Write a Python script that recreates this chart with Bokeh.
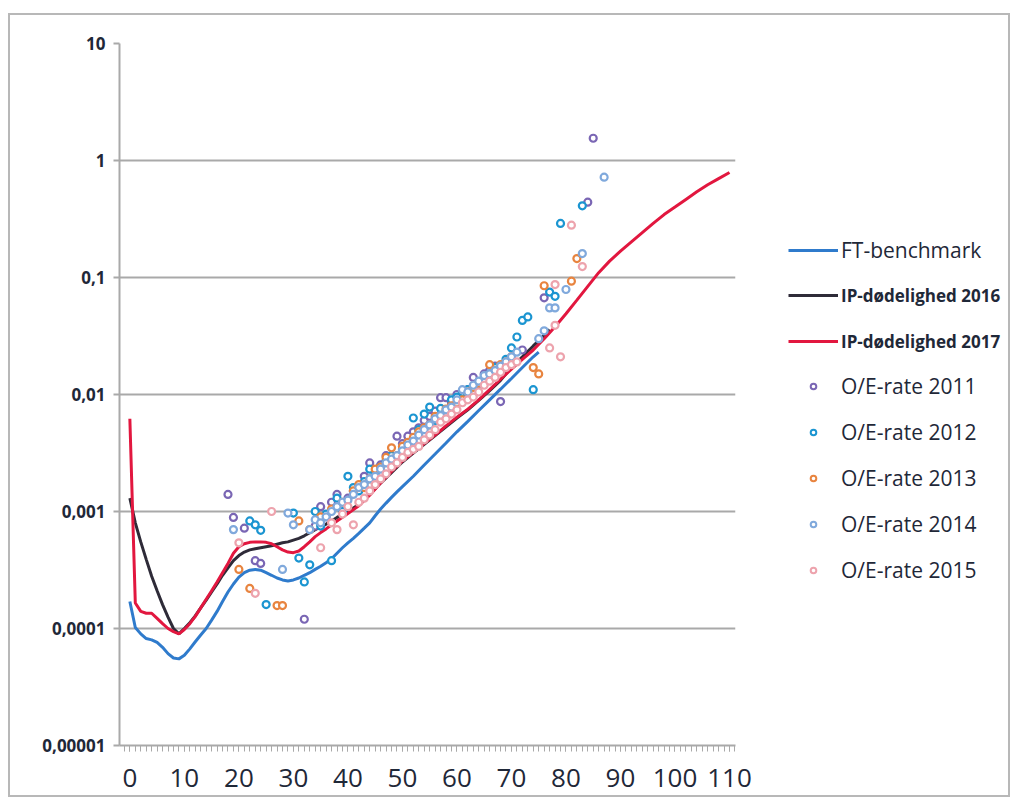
from bokeh.plotting import figure
from bokeh.layouts import row
from bokeh.models import FixedTicker, Legend, LegendItem, Range1d
from bokeh.embed import file_html
from bokeh.resources import INLINE

# ---------------- data ----------------
y_ticks = [1e-5, 1e-4, 1e-3, 1e-2, 1e-1, 1.0, 10.0]
y_tick_labels = ["0,00001", "0,0001", "0,001", "0,01", "0,1", "1", "10"]
x_ticks = [0, 10, 20, 30, 40, 50, 60, 70, 80, 90, 100, 110]

ft_age = [0, 1, 2, 3, 4, 5, 6, 7, 8, 9, 10, 11, 12, 13, 14, 15, 16, 17, 18, 19, 20,
          21, 22, 23, 24, 25, 26, 27, 28, 29, 30, 31, 32, 33, 34, 35, 36, 37, 38, 39,
          40, 41, 42, 43, 44, 45, 46, 47, 48, 49, 50, 52, 54, 56, 58, 60, 62, 64, 66,
          68, 70, 72, 74, 75]
ft_val = [1.7e-4, 1.02e-4, 9.0e-5, 8.2e-5, 8.0e-5, 7.6e-5, 6.9e-5, 6.1e-5, 5.6e-5, 5.5e-5,
          5.9e-5, 6.7e-5, 7.7e-5, 8.8e-5, 1.0e-4, 1.18e-4, 1.4e-4, 1.7e-4, 2.05e-4, 2.4e-4,
          2.75e-4, 3.0e-4, 3.15e-4, 3.2e-4, 3.15e-4, 3.0e-4, 2.85e-4, 2.7e-4, 2.6e-4, 2.55e-4,
          2.6e-4, 2.7e-4, 2.85e-4, 3.0e-4, 3.2e-4, 3.4e-4, 3.65e-4, 3.95e-4, 4.4e-4, 4.9e-4,
          5.4e-4, 5.9e-4, 6.5e-4, 7.2e-4, 8.0e-4, 9.2e-4, 1.05e-3, 1.18e-3, 1.32e-3, 1.47e-3,
          1.63e-3, 2.0e-3, 2.5e-3, 3.1e-3, 3.85e-3, 4.8e-3, 5.9e-3, 7.3e-3, 9.0e-3,
          1.11e-2, 1.37e-2, 1.7e-2, 2.1e-2, 2.3e-2]

ip16_age = [0, 1, 2, 3, 4, 5, 6, 7, 8, 9, 10, 11, 12, 13, 14, 15, 16, 17, 18, 19, 20,
            21, 22, 23, 24, 25, 26, 27, 28, 29, 30, 31, 32, 33, 34, 35, 36, 37, 38, 40,
            42, 44, 46, 48, 50, 52, 54, 56, 58, 60, 62, 64, 66, 68, 70, 72, 74, 76, 77]
ip16_val = [1.3e-3, 8.0e-4, 5.5e-4, 3.9e-4, 2.8e-4, 2.1e-4, 1.6e-4, 1.25e-4, 1.0e-4, 9.0e-5,
            1.0e-4, 1.12e-4, 1.28e-4, 1.5e-4, 1.75e-4, 2.05e-4, 2.4e-4, 2.85e-4, 3.3e-4, 3.8e-4,
            4.2e-4, 4.5e-4, 4.7e-4, 4.8e-4, 4.9e-4, 5.0e-4, 5.1e-4, 5.25e-4, 5.4e-4, 5.5e-4,
            5.7e-4, 5.9e-4, 6.2e-4, 6.6e-4, 7.0e-4, 7.4e-4, 7.8e-4, 8.3e-4, 8.9e-4, 1.0e-3,
            1.15e-3, 1.4e-3, 1.75e-3, 2.15e-3, 2.65e-3, 3.15e-3, 3.75e-3, 4.45e-3, 5.3e-3,
            6.3e-3, 7.4e-3, 8.9e-3, 1.08e-2, 1.32e-2, 1.7e-2, 2.1e-2, 2.6e-2, 3.2e-2, 3.6e-2]

ip17_age = [0, 1, 2, 3, 4, 5, 6, 7, 8, 9, 10, 11, 12, 13, 14, 15, 16, 17, 18, 19, 20,
            21, 22, 23, 24, 25, 26, 27, 28, 29, 30, 31, 32, 33, 34, 35, 36, 37, 38, 40,
            42, 44, 46, 48, 50, 52, 54, 56, 58, 60, 62, 64, 66, 68, 70, 72, 74, 76, 78,
            80, 82, 84, 86, 88, 90, 92, 94, 96, 98, 100, 102, 104, 106, 108, 110]
ip17_val = [6.2e-3, 1.65e-4, 1.4e-4, 1.35e-4, 1.35e-4, 1.22e-4, 1.1e-4, 1.0e-4, 9.4e-5, 9.0e-5,
            9.8e-5, 1.1e-4, 1.27e-4, 1.5e-4, 1.78e-4, 2.1e-4, 2.5e-4, 3.0e-4, 3.6e-4, 4.4e-4,
            5.0e-4, 5.3e-4, 5.45e-4, 5.5e-4, 5.5e-4, 5.45e-4, 5.3e-4, 5.0e-4, 4.7e-4, 4.5e-4,
            4.45e-4, 4.6e-4, 5.0e-4, 5.5e-4, 6.1e-4, 6.6e-4, 7.1e-4, 7.7e-4, 8.3e-4, 9.6e-4,
            1.12e-3, 1.38e-3, 1.75e-3, 2.2e-3, 2.7e-3, 3.2e-3, 3.8e-3, 4.5e-3, 5.4e-3, 6.4e-3,
            7.5e-3, 9.0e-3, 1.1e-2, 1.35e-2, 1.65e-2, 2.0e-2, 2.4e-2, 3.0e-2, 3.8e-2, 4.9e-2,
            6.4e-2, 8.4e-2, 1.1e-1, 1.38e-1, 1.68e-1, 2.02e-1, 2.42e-1, 2.9e-1, 3.45e-1, 4.0e-1,
            4.65e-1, 5.4e-1, 6.2e-1, 7.0e-1, 7.9e-1]

oe2011_age = [18, 19, 21, 23, 24, 32, 34, 35, 36, 37, 38, 40, 41, 42, 43, 44, 45, 46, 47, 49,
              50, 51, 52, 53, 54, 55, 56, 57, 58, 59, 60, 61, 62, 63, 64, 65, 66, 67, 68, 69,
              70, 72, 76, 84, 85]
oe2011_val = [1.4e-3, 8.9e-4, 7.2e-4, 3.8e-4, 3.6e-4, 1.2e-4, 7.5e-4, 1.1e-3, 9.0e-4, 1.2e-3,
              1.4e-3, 1.3e-3, 1.5e-3, 1.6e-3, 2.0e-3, 2.6e-3, 2.2e-3, 2.5e-3, 3.0e-3, 4.4e-3,
              3.8e-3, 4.4e-3, 4.8e-3, 5.2e-3, 6.0e-3, 6.5e-3, 7.2e-3, 9.4e-3, 9.4e-3, 8.5e-3,
              1.0e-2, 1.05e-2, 1.1e-2, 1.4e-2, 1.2e-2, 1.5e-2, 1.6e-2, 1.75e-2, 8.7e-3, 1.9e-2,
              2.0e-2, 2.4e-2, 6.7e-2, 4.4e-1, 1.55]

oe2012_age = [22, 23, 24, 25, 30, 31, 32, 33, 34, 35, 36, 37, 38, 39, 40, 41, 42, 43, 44, 45,
              46, 47, 48, 50, 51, 52, 53, 54, 55, 56, 57, 58, 59, 60, 61, 62, 64, 65, 66, 67,
              69, 70, 71, 72, 73, 74, 77, 78, 79, 83]
oe2012_val = [8.3e-4, 7.7e-4, 6.9e-4, 1.6e-4, 9.7e-4, 4.0e-4, 2.5e-4, 3.5e-4, 1.0e-3, 7.5e-4,
              9.5e-4, 3.8e-4, 1.3e-3, 1.0e-3, 2.0e-3, 1.6e-3, 1.5e-3, 1.8e-3, 2.3e-3, 2.1e-3,
              2.4e-3, 2.7e-3, 3.0e-3, 3.4e-3, 3.7e-3, 6.3e-3, 5.0e-3, 6.8e-3, 7.8e-3, 6.0e-3,
              7.6e-3, 7.0e-3, 9.0e-3, 9.5e-3, 1.05e-2, 1.1e-2, 1.25e-2, 1.4e-2, 1.5e-2, 1.7e-2,
              2.0e-2, 2.5e-2, 3.1e-2, 4.3e-2, 4.6e-2, 1.1e-2, 7.5e-2, 6.9e-2, 2.9e-1, 4.1e-1]

oe2013_age = [20, 22, 27, 28, 31, 33, 35, 37, 39, 41, 42, 43, 44, 45, 46, 47, 48, 49, 50, 51,
              52, 53, 54, 55, 56, 57, 58, 59, 60, 61, 62, 63, 64, 65, 66, 67, 68, 69, 70, 74,
              75, 76, 81, 82]
oe2013_val = [3.2e-4, 2.2e-4, 1.57e-4, 1.57e-4, 8.3e-4, 7.0e-4, 9.0e-4, 1.05e-3, 1.2e-3, 1.5e-3,
              1.7e-3, 1.6e-3, 1.9e-3, 2.3e-3, 2.4e-3, 2.9e-3, 3.5e-3, 3.0e-3, 3.6e-3, 3.9e-3,
              4.3e-3, 4.8e-3, 5.2e-3, 5.5e-3, 6.5e-3, 6.0e-3, 7.5e-3, 8.0e-3, 8.5e-3, 9.0e-3,
              1.05e-2, 1.15e-2, 1.25e-2, 1.3e-2, 1.8e-2, 1.6e-2, 1.8e-2, 1.9e-2, 2.1e-2, 1.7e-2,
              1.5e-2, 8.5e-2, 9.3e-2, 1.45e-1]

oe2014_age = [19, 28, 29, 30, 33, 34, 35, 36, 37, 38, 39, 40, 41, 42, 43, 44, 45, 46, 47, 48,
              49, 50, 51, 52, 53, 54, 55, 56, 57, 58, 59, 60, 61, 62, 63, 64, 65, 66, 67, 68,
              69, 70, 71, 75, 76, 77, 78, 80, 83, 87]
oe2014_val = [7.0e-4, 3.2e-4, 9.7e-4, 7.7e-4, 7.0e-4, 8.5e-4, 8.0e-4, 9.0e-4, 1.0e-3, 1.1e-3,
              1.2e-3, 1.25e-3, 1.4e-3, 1.6e-3, 1.7e-3, 1.9e-3, 2.0e-3, 2.3e-3, 2.6e-3, 2.8e-3,
              3.0e-3, 3.3e-3, 3.7e-3, 4.0e-3, 4.5e-3, 5.0e-3, 5.5e-3, 6.2e-3, 6.6e-3, 7.4e-3,
              7.8e-3, 9.0e-3, 1.1e-2, 1.05e-2, 1.2e-2, 1.3e-2, 1.45e-2, 1.5e-2, 1.6e-2, 1.75e-2,
              1.9e-2, 2.1e-2, 2.3e-2, 3.0e-2, 3.5e-2, 5.5e-2, 5.5e-2, 7.9e-2, 1.6e-1, 7.2e-1]

oe2015_age = [20, 23, 26, 35, 37, 38, 39, 40, 41, 42, 43, 44, 45, 46, 47, 48, 49, 50, 51, 52,
              53, 54, 55, 56, 57, 58, 59, 60, 61, 62, 63, 64, 65, 66, 67, 68, 69, 70, 71, 77,
              78, 78, 79, 81, 83]
oe2015_val = [5.4e-4, 2.0e-4, 1.0e-3, 4.9e-4, 8.0e-4, 7.0e-4, 9.5e-4, 1.1e-3, 7.7e-4, 1.2e-3,
              1.3e-3, 1.5e-3, 1.7e-3, 1.9e-3, 2.1e-3, 2.4e-3, 2.6e-3, 2.9e-3, 3.2e-3, 3.4e-3,
              3.6e-3, 4.1e-3, 4.5e-3, 5.0e-3, 5.8e-3, 6.2e-3, 6.8e-3, 7.4e-3, 8.5e-3, 9.0e-3,
              9.5e-3, 1.05e-2, 1.2e-2, 1.3e-2, 1.4e-2, 1.55e-2, 1.7e-2, 1.8e-2, 1.9e-2, 2.5e-2,
              8.7e-2, 3.9e-2, 2.1e-2, 2.8e-1, 1.24e-1]

series_labels = ["FT-benchmark", "IP-dødelighed 2016", "IP-dødelighed 2017",
                 "O/E-rate 2011", "O/E-rate 2012", "O/E-rate 2013", "O/E-rate 2014", "O/E-rate 2015"]

# ---------------- styles ----------------
FONT = "Open Sans"
TXT = "#1f2838"
GRID = "#a9a9a9"
C_FT, C_16, C_17 = "#2f7bcc", "#2e2b38", "#e2173f"
C_OE = ["#7a66b4", "#1b95d1", "#e8843f", "#80a9dc", "#eda3ad"]

H = 780
p = figure(frame_width=616, frame_height=702,
           min_border_left=109, min_border_right=20,
           min_border_top=28, min_border_bottom=50,
           y_axis_type="log",
           x_range=Range1d(-1.9, 111.1), y_range=Range1d(1e-5, 10),
           output_backend="svg", toolbar_location=None)
p.outline_line_color = None
p.background_fill_color = "white"

p.xgrid.visible = False
p.ygrid.ticker = FixedTicker(ticks=y_ticks)
p.ygrid.grid_line_color = GRID
p.ygrid.grid_line_width = 2

p.yaxis.ticker = FixedTicker(ticks=y_ticks, minor_ticks=[])
p.yaxis.major_label_overrides = {t: l for t, l in zip(y_ticks, y_tick_labels)}
p.yaxis.axis_line_color = GRID
p.yaxis.axis_line_width = 2
p.yaxis.major_tick_line_color = GRID
p.yaxis.major_tick_line_width = 2
p.yaxis.major_tick_out = 6
p.yaxis.major_tick_in = 0
p.yaxis.minor_tick_line_color = None
p.yaxis.major_label_standoff = 8
p.yaxis.major_label_text_font = FONT
p.yaxis.major_label_text_font_style = "bold"
p.yaxis.major_label_text_font_size = "17px"
p.yaxis.major_label_text_color = TXT

p.xaxis.ticker = FixedTicker(ticks=x_ticks, minor_ticks=list(range(-1, 112)))
p.xaxis.axis_line_color = GRID
p.xaxis.axis_line_width = 2
p.xaxis.major_tick_line_color = GRID
p.xaxis.minor_tick_line_color = GRID
p.xaxis.major_tick_out = 6
p.xaxis.major_tick_in = 0
p.xaxis.minor_tick_out = 6
p.xaxis.minor_tick_in = 0
p.xaxis.major_label_standoff = 17
p.xaxis.major_label_text_font = FONT
p.xaxis.major_label_text_font_size = "26px"
p.xaxis.major_label_text_color = TXT

p.line(ft_age, ft_val, line_color=C_FT, line_width=3)
p.line(ip16_age, ip16_val, line_color=C_16, line_width=3)
p.line(ip17_age, ip17_val, line_color=C_17, line_width=3)

oe_sets = [(oe2011_age, oe2011_val), (oe2012_age, oe2012_val), (oe2013_age, oe2013_val),
           (oe2014_age, oe2014_val), (oe2015_age, oe2015_val)]
for (ages, vals), col in zip(oe_sets, C_OE):
    p.scatter(ages, vals, marker="circle", size=7, fill_color="white",
              line_color=col, line_width=2.2)

# ---------------- legend panel ----------------
lp = figure(width=253, height=H, x_range=Range1d(0, 1), y_range=Range1d(0, 1),
            x_axis_location=None, y_axis_location=None,
            min_border=0, output_backend="svg", toolbar_location=None)
lp.grid.visible = False
lp.outline_line_color = None
off_x, off_y = [-5, -4], [-5, -5]   # outside the visible range: legend swatches only
lr_ft = lp.line(off_x, off_y, line_color=C_FT, line_width=3)
lr_16 = lp.line(off_x, off_y, line_color=C_16, line_width=3)
lr_17 = lp.line(off_x, off_y, line_color=C_17, line_width=3)
lr_oe = [lp.scatter(off_x, off_y, marker="circle", size=7, fill_color="white", line_color=c,
                    line_width=2) for c in C_OE]

def mk_legend(items, font_size, style, vy, spacing, lh, gh):
    lg = Legend(items=items, location=(33, vy), orientation="vertical",
                padding=0, margin=0, spacing=spacing,
                glyph_width=50, glyph_height=gh, label_height=lh,
                label_standoff=3,
                label_text_font=FONT, label_text_font_size=font_size,
                label_text_font_style=style, label_text_color=TXT,
                border_line_color=None, background_fill_alpha=0)
    lp.add_layout(lg)

mk_legend([LegendItem(label=series_labels[0], renderers=[lr_ft])], "21px", "normal", 480, 0, 30, 30)
mk_legend([LegendItem(label=series_labels[1], renderers=[lr_16]),
           LegendItem(label=series_labels[2], renderers=[lr_17])], "17px", "bold", 392, 22, 24, 24)
mk_legend([LegendItem(label=series_labels[3 + i], renderers=[lr_oe[i]]) for i in range(5)],
          "21px", "normal", 160, 16, 30, 14)

root = row(p, lp, spacing=0)
root.styles = {"border": "2px solid #b8b8b8", "margin-top": "13px", "margin-left": "8px"}

open("out.html", "w").write(file_html(root, INLINE))
